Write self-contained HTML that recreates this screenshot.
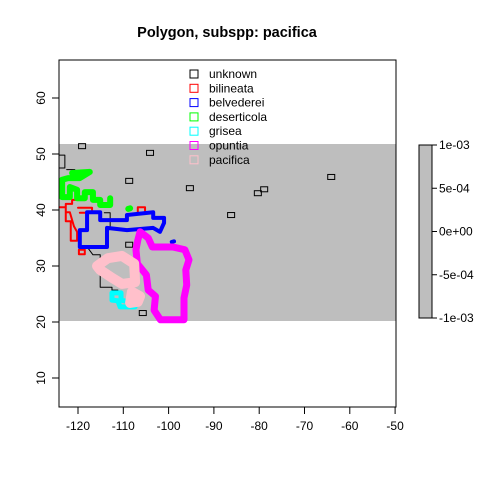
<!DOCTYPE html>
<html><head><meta charset="utf-8"><style>
body{margin:0;background:#fff;}
svg text{font-family:"Liberation Sans",sans-serif;font-size:12px;}
</style></head><body>
<svg id="c" width="480" height="480">
<text x="227" y="37" text-anchor="middle" style="font-weight:bold;font-size:14.5px">Polygon, subspp: pacifica</text>
<rect x="59" y="144" width="337" height="177" fill="#bebebe"/>
<g id="marks"></g>
<rect x="59" y="60" width="337" height="347" fill="none" stroke="#000"/>
<g id="axes"></g>
<g id="legend"></g>
<rect x="419" y="145" width="13" height="173" fill="#bebebe" stroke="#000"/>
<g id="cbar"></g>
</svg>
<script>
const xTicks=[-120,-110,-100,-90,-80,-70,-60,-50];
const yTicks=[10,20,30,40,50,60];
const cbarTicks=["1e-03","5e-04","0e+00","-5e-04","-1e-03"];
const legendNames=["unknown","bilineata","belvederei","deserticola","grisea","opuntia","pacifica"];
const legendColors=["#000","#f00","#00f","#0f0","#0ff","#f0f","#ffc0cb"];
const bilineata=[[[-124.0,40.5],[-122.7,40.5],[-122.7,38.0],[-121.6,38.0],[-121.6,34.5],[-120.2,34.5],[-120.2,36.1],[-120.9,37.1],[-121.8,39.6],[-122.7,39.6],[-122.7,41.1],[-121.3,41.1],[-121.3,41.8],[-119.6,41.8]],
[[-120.0,40.4],[-116.9,40.4],[-116.9,39.5],[-119.6,39.5]],
[[-119.8,32.1],[-118.5,32.1],[-118.5,32.9],[-119.8,32.9],[-119.8,32.1]],
[[-106.8,39.6],[-106.8,40.5],[-105.2,40.5],[-105.2,39.6]]];
const belvederei=[[[-119.6,33.4],[-119.6,36.4],[-118.0,36.4],[-118.0,39.6],[-115.1,39.6],[-115.1,38.2],[-109.2,38.2],[-109.2,39.1],[-103.4,39.6],[-103.4,38.6],[-101.0,38.6],[-101.0,37.7],[-101.9,36.1],[-103.4,36.8],[-109.2,36.4],[-113.6,36.8],[-113.6,33.4],[-116.7,33.4],[-119.6,33.4]],
[[-99.3,34.3],[-98.8,34.4]]];
const deserticola=[[[-121.3,46.6],[-117.4,46.8],[-119.6,45.7],[-122.2,45.7],[-123.5,45.4],[-123.5,42.3],[-121.8,42.3],[-121.8,44.1],[-120.2,43.6],[-120.2,42.1],[-118.5,42.1],[-118.5,43.2],[-116.7,43.2],[-116.7,41.8],[-115.1,41.8],[-115.1,40.9],[-112.9,40.9],[-112.9,42.1]],
[[-108.9,40.2],[-108.5,40.3]]];
const grisea=[[[-112.5,25.2],[-110.5,25.2],[-110.5,23.9],[-107.4,23.4],[-107.4,22.7],[-110.7,22.7],[-111.2,23.8],[-112.5,23.9],[-112.5,25.2]]];
const opuntia=[[[-106.3,36.1],[-104.5,35.0],[-103.6,33.4],[-99.1,33.4],[-96.4,32.9],[-95.5,31.1],[-96.2,29.3],[-96.0,26.6],[-96.6,24.3],[-96.6,20.4],[-101.8,20.4],[-103.2,22.1],[-102.9,24.6],[-104.5,25.7],[-104.9,28.4],[-106.9,30.4],[-107.2,32.9],[-106.8,34.6],[-106.3,36.1]]];
const pacifica=[[[-115.8,30.0],[-113.4,31.4],[-110.3,31.8],[-107.6,30.4],[-107.4,27.1],[-110.3,26.8],[-112.5,27.9],[-115.1,29.3],[-115.8,30.0]],
[[-108.1,25.4],[-106.3,24.6],[-106.8,23.6],[-108.5,23.4],[-108.1,25.4]]];
const unknownLines=[[[-124.2,49.8],[-122.9,49.8],[-122.9,47.5],[-124.2,47.5]],
[[-122.5,47.2],[-120.7,47.2],[-120.7,46.3]],
[[-117.8,33.2],[-116.7,32.0],[-115.1,32.0],[-115.1,26.2],[-112.5,26.2],[-112.5,25.7],[-111.2,25.7]],
[[-114.2,39.5],[-112.9,39.5],[-112.9,36.8]]];
const unknownBoxes=[[-119.1,51.4],[-104.1,50.2],[-108.7,45.2],[-95.3,43.9],[-86.2,39.1],[-80.3,43.0],[-78.9,43.7],[-64.1,45.9],[-108.7,33.8],[-105.7,21.6]];

const sx=v=>78+(v+120)*4.53;
const sy=v=>322-(v-20)*5.6;
const NS='http://www.w3.org/2000/svg';
function mk(t,p,parent){const e=document.createElementNS(NS,t);for(const k in p)e.setAttribute(k,p[k]);parent.appendChild(e);return e;}
const marks=document.getElementById('marks');
function drawSeries(arr,color,w,name){
  arr.forEach((pts,i)=>{
    const e=mk('polyline',{points:pts.map(p=>sx(p[0])+','+sy(p[1])).join(' '),fill:'none',stroke:color,'stroke-width':w,'stroke-linejoin':'round','stroke-linecap':'round'},marks);
    
    
  });
}
drawSeries(unknownLines,'#000',1,'unknown');
unknownBoxes.forEach(b=>{
  const e=mk('rect',{x:sx(b[0])-3.5,y:sy(b[1])-2.5,width:7,height:5,fill:'none',stroke:'#000','stroke-width':1},marks);
  
  
});
drawSeries(bilineata,'#f00',2,'bilineata');
drawSeries(belvederei,'#00f',4,'belvederei');
drawSeries(deserticola,'#0f0',6,'deserticola');
drawSeries(opuntia,'#f0f',7,'opuntia');
drawSeries(grisea,'#0ff',5,'grisea');
drawSeries(pacifica,'#ffc0cb',10,'pacifica');

const axes=document.getElementById('axes');
xTicks.forEach(t=>{
  const x=sx(t);
  mk('line',{x1:x,x2:x,y1:407,y2:414,stroke:'#000'},axes);
  const e=mk('text',{x:x,y:430,'text-anchor':'middle'},axes);e.textContent=t;
  
  
});
yTicks.forEach(t=>{
  const y=sy(t);
  mk('line',{x1:52,x2:59,y1:y,y2:y,stroke:'#000'},axes);
  const e=mk('text',{x:45,y:y,'text-anchor':'middle',transform:'rotate(-90 45 '+y+')'},axes);e.textContent=t;
  
  
});
const lg=document.getElementById('legend');
legendNames.forEach((n,i)=>{
  const y=74+i*14.3;
  const r=mk('rect',{x:190,y:y-4,width:8,height:8,fill:'none',stroke:legendColors[i]},lg);
  
  
  const t=mk('text',{x:209,y:y+4},lg);t.textContent=n;
  
  
});
const cb=document.getElementById('cbar');
cbarTicks.forEach((l,i)=>{
  const y=145+i*43.25;
  mk('line',{x1:432,x2:437,y1:y,y2:y,stroke:'#000'},cb);
  const t=mk('text',{x:439,y:y+4},cb);t.textContent=l;
  
  
});
</script>
</body></html>
